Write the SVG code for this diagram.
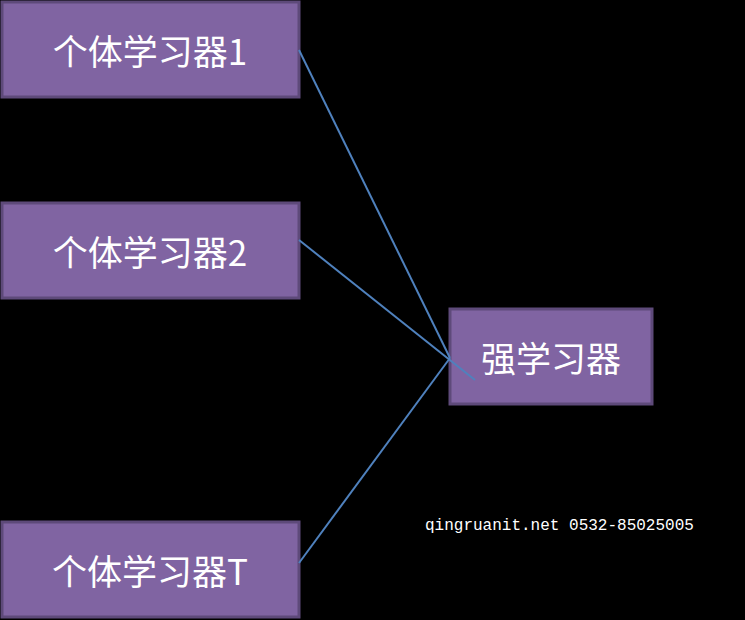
<svg xmlns="http://www.w3.org/2000/svg" width="745" height="620" viewBox="0 0 745 620">
<style>
.box{fill:#8064A2;stroke:#5E4A7A;stroke-width:3}
.lbl{fill:#fff;font-family:"Noto Sans CJK SC","Liberation Sans",sans-serif;font-size:35px;text-anchor:middle;dominant-baseline:central}
.ln{stroke:#4F81BD;stroke-width:2;fill:none}
</style>
<rect width="745" height="620" fill="#000"/>
<g id="n1"><rect class="box" x="2" y="2" width="297" height="95"/><text class="lbl" x="150" y="49">个体学习器1</text></g>
<g id="n2"><rect class="box" x="2" y="203" width="297" height="95"/><text class="lbl" x="150" y="250">个体学习器2</text></g>
<g id="nT"><rect class="box" x="2" y="522" width="297" height="95"/><text class="lbl" x="150" y="569">个体学习器T</text></g>
<g id="strong"><rect class="box" x="450" y="309" width="202" height="95"/><text class="lbl" x="551" y="356">强学习器</text></g>
<g id="connectors">
<line class="ln" x1="299" y1="50" x2="450" y2="358"/>
<line class="ln" x1="299" y1="240" x2="475" y2="380"/>
<line class="ln" x1="299" y1="563" x2="450" y2="358"/>
</g>
<text x="425" y="530" fill="#fff" font-family="Liberation Mono,monospace" font-size="16">qingruanit.net 0532-85025005</text>
</svg>
